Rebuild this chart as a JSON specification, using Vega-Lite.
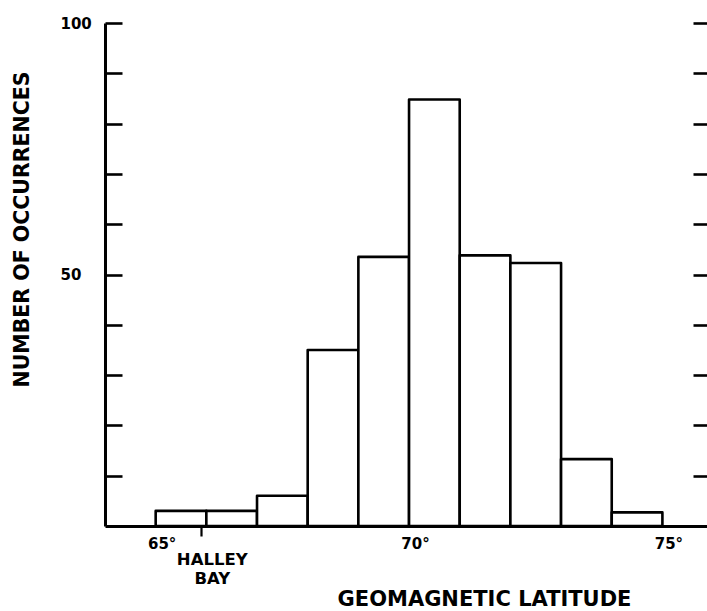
{
  "$schema": "https://vega.github.io/schema/vega-lite/v6.json",
  "width": 602,
  "height": 503,
  "autosize": {"type": "none"},
  "padding": {"left": 105, "top": 23, "right": 0, "bottom": 85},
  "background": "white",
  "config": {
    "view": {"stroke": null},
    "font": "DejaVu Sans",
    "axis": {"labelFont": "DejaVu Sans", "titleFont": "DejaVu Sans", "labelColor": "black", "titleColor": "black", "domainColor": "black", "tickColor": "black", "grid": false}
  },
  "datasets": {
    "bars": [
      {"lat_start": 65, "lat_end": 66, "count": 3},
      {"lat_start": 66, "lat_end": 67, "count": 3},
      {"lat_start": 67, "lat_end": 68, "count": 6},
      {"lat_start": 68, "lat_end": 69, "count": 35},
      {"lat_start": 69, "lat_end": 70, "count": 53.5},
      {"lat_start": 70, "lat_end": 71, "count": 84.8},
      {"lat_start": 71, "lat_end": 72, "count": 53.8},
      {"lat_start": 72, "lat_end": 73, "count": 52.3},
      {"lat_start": 73, "lat_end": 74, "count": 13.3},
      {"lat_start": 74, "lat_end": 75, "count": 2.7}
    ],
    "station": [
      {"lat_start": 65.9, "label": "HALLEY BAY"}
    ]
  },
  "layer": [
    {
      "data": {"name": "bars"},
      "mark": {"type": "bar", "fill": "white", "stroke": "black", "strokeWidth": 2.6, "strokeJoin": "round"},
      "encoding": {
        "x": {
          "field": "lat_start", "type": "quantitative",
          "scale": {"domain": [64, 75.88], "nice": false, "zero": false},
          "axis": {
            "orient": "bottom",
            "values": [65, 65.9, 70, 75],
            "labelExpr": "(datum.value > 65.5 && datum.value < 66.5) ? '' : datum.value + '°'",
            "labelFontSize": 15, "labelFontWeight": "bold",
            "labelAlign": "center", "labelBaseline": "top",
            "labelOffset": 6, "labelPadding": 0, "labelFlush": false,
            "tickSize": 10, "tickWidth": 2.2,
            "tickColor": {"condition": {"test": "datum.value > 65.5 && datum.value < 66.5", "value": "black"}, "value": "transparent"},
            "domainWidth": 3,
            "title": "GEOMAGNETIC LATITUDE",
            "titleFontSize": 21, "titleFontWeight": "bold",
            "titleX": 379, "titleY": 79, "titleAlign": "center", "titleBaseline": "alphabetic", "titleAnchor": null
          }
        },
        "x2": {"field": "lat_end"},
        "y": {
          "field": "count", "type": "quantitative",
          "scale": {"domain": [0, 100], "nice": false},
          "axis": {
            "orient": "left",
            "values": [10, 20, 30, 40, 50, 60, 70, 80, 90, 100],
            "labelExpr": "(datum.value == 50 || datum.value == 100) ? datum.label : ''",
            "labelFontSize": 15, "labelFontWeight": "bold",
            "labelAlign": "left", "labelBaseline": "middle", "labelPadding": 62,
            "tickSize": -17, "tickWidth": 2.6,
            "domainWidth": 3,
            "title": "NUMBER OF OCCURRENCES",
            "titleFontSize": 20.5, "titleFontWeight": "bold",
            "titleAngle": -90, "titleX": -77, "titleY": 206, "titleAlign": "center", "titleBaseline": "alphabetic"
          }
        },
        "y2": {"datum": 0}
      }
    },
    {
      "data": {"name": "station"},
      "mark": {"type": "text", "lineBreak": " ", "lineHeight": 19, "fontSize": 16.5, "fontWeight": "bold", "font": "DejaVu Sans", "color": "black", "align": "center", "baseline": "top", "dx": 11, "dy": 26},
      "encoding": {
        "x": {"field": "lat_start", "type": "quantitative"},
        "y": {
          "datum": 0, "type": "quantitative",
          "axis": {
            "orient": "right",
            "values": [10, 20, 30, 40, 50, 60, 70, 80, 90, 100],
            "labels": false, "domain": false,
            "tickSize": 14, "tickWidth": 2.6, "offset": -14,
            "title": null
          }
        },
        "text": {"field": "label"}
      }
    }
  ],
  "resolve": {"axis": {"y": "independent"}}
}
